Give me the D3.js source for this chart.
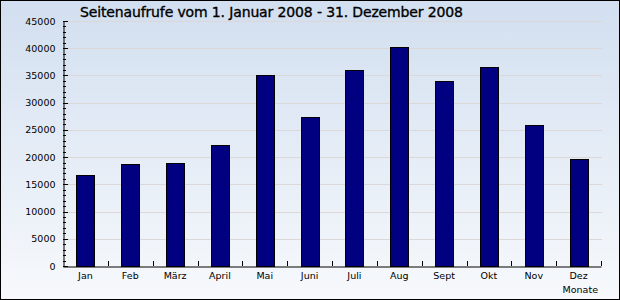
<!DOCTYPE html>
<html><head><meta charset="utf-8">
<script src="https://cdn.jsdelivr.net/npm/d3@7"></script>
<style>html,body{margin:0;padding:0;background:#fff}svg{display:block}</style>
</head><body>
<svg id="c" width="620" height="300"></svg>
<script>
const months = ["Jan","Feb","März","April","Mai","Juni","Juli","Aug","Sept","Okt","Nov","Dez"];
const views = [16700,18750,18900,22200,35100,27350,36000,40250,34000,36550,25850,19650];
const yTicks = [0,5000,10000,15000,20000,25000,30000,35000,40000,45000];
const title = "Seitenaufrufe vom 1. Januar 2008 - 31. Dezember 2008";
const xTitle = "Monate";

const svg = d3.select("#c");
const W = 620, H = 300;
const m = {l:63, r:19, t:21, b:34};
const defs = svg.append("defs");
const g = defs.append("linearGradient").attr("id","bg").attr("x1",0).attr("y1",0).attr("x2",0).attr("y2",1);
g.append("stop").attr("offset","0%").attr("stop-color","#d2dff0");
g.append("stop").attr("offset","100%").attr("stop-color","#f7f9fc");
svg.append("rect").attr("x",0.5).attr("y",0.5).attr("width",W-1).attr("height",H-1)
  .attr("fill","url(#bg)").attr("stroke","#000");

const x = d3.scaleBand().domain(months).range([m.l, W-m.r]).paddingInner(0).paddingOuter(0);
const y = d3.scaleLinear().domain([0,45000]).range([H-m.b, m.t]);

// grid
svg.append("g").selectAll("line").data(yTicks.filter(d=>d>0)).join("line")
  .attr("x1",m.l).attr("x2",W-m.r+1)
  .attr("y1",d=>Math.round(y(d))+0.5).attr("y2",d=>Math.round(y(d))+0.5)
  .attr("stroke","#dcd8d8").attr("stroke-width",1);

// bars
const bw = 18;
svg.append("g").selectAll("rect").data(views).join("rect")
  .attr("x",(d,i)=>Math.round(x(months[i])+x.bandwidth()/2-bw/2)+0.5)
  .attr("y",d=>Math.round(y(d))+0.5)
  .attr("width",bw)
  .attr("height",d=>Math.round(y(0))-Math.round(y(d)))
  .attr("fill","#000080").attr("stroke","#000").attr("stroke-width",1);

// y axis
const yAxis = d3.axisLeft(y).tickValues(yTicks).tickSize(0).tickPadding(8).tickFormat(d3.format("d"));
const ya = svg.append("g").attr("transform",`translate(${m.l+0.5},0)`).call(yAxis);
ya.select(".domain").attr("stroke","#000");
ya.selectAll("text").attr("font-family","DejaVu Sans").attr("font-size","9.5px").attr("fill","#000");
// minor/major ticks pointing inward
const minor = d3.range(0,45001,1000);
svg.append("g").selectAll("line").data(minor).join("line")
  .attr("x1",m.l).attr("x2",d=>d%5000===0?m.l+5:m.l+3)
  .attr("y1",d=>Math.round(y(d))+0.5).attr("y2",d=>Math.round(y(d))+0.5)
  .attr("stroke","#000");

// x axis
const xa = svg.append("g").attr("transform",`translate(0,${Math.round(y(0))+0.5})`)
  .call(d3.axisBottom(x).tickSize(0).tickPadding(6));
xa.select(".domain").attr("stroke","#000");
xa.selectAll("text").attr("font-family","DejaVu Sans").attr("font-size","9.5px").attr("fill","#000");
svg.append("g").selectAll("line").data(months).join("line")
  .attr("x1",(d,i)=>Math.round(x(d)+x.bandwidth())+0.5)
  .attr("x2",(d,i)=>Math.round(x(d)+x.bandwidth())+0.5)
  .attr("y1",Math.round(y(0))).attr("y2",Math.round(y(0))-5)
  .attr("stroke","#000");

svg.append("text").attr("x",598).attr("y",293).attr("text-anchor","end")
  .attr("font-family","DejaVu Sans").attr("font-size","9.5px").text(xTitle);

svg.append("text").attr("x",80).attr("y",17)
  .attr("font-family","DejaVu Sans").attr("font-size","14px")
  .attr("textLength",383).attr("lengthAdjust","spacing")
  .attr("stroke","#000").attr("stroke-width",0.35)
  .text(title);
</script>
</body></html>
